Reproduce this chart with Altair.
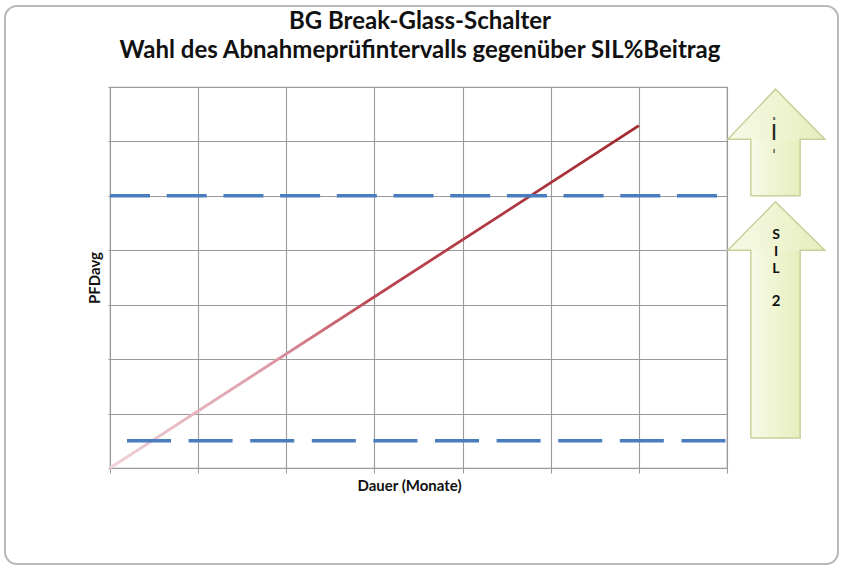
import altair as alt
import pandas as pd

# ---- data ----
months = [0, 6]                 # Dauer (Monate) of the PFDavg line
pfd = [0, 6.29]                 # PFDavg values (relative units)
grid_x = [0, 1, 2, 3, 4, 5, 6, 7]
grid_y = [0, 1, 2, 3, 4, 5, 6, 7]
sil_low = [0.5]                 # lower SIL boundary
sil_high = [5.0]                # upper SIL boundary

# block arrows (x in x-units beyond the axis end, y on the PFDavg scale)
arrow_wing_x = [7.01, 7.55, 8.11]     # head: left wing, tip, right wing
arrow_shaft_x = [7.27, 7.83]          # shaft left / right
lower_arrow = {"bottom": 0.55, "wings": 4.0, "tip": 4.89}
upper_arrow = {"bottom": 5.0, "wings": 6.04, "tip": 6.96}

title_lines = ["BG Break-Glass-Schalter",
               "Wahl des Abnahmeprüfintervalls gegenüber SIL%Beitrag"]

FONT = "Lato"

line_df = pd.DataFrame({"m": months, "p": pfd})

xs = alt.Scale(domain=[0, 7], nice=False, zero=False)
ys = alt.Scale(domain=[0, 7], nice=False, zero=False)

base_x = alt.X("m:Q", scale=xs,
               axis=alt.Axis(values=grid_x, labels=False, domain=False, grid=True,
                             gridColor="#9a9a9a", gridWidth=1.1, ticks=True, tickSize=5,
                             tickColor="#9a9a9a", title="Dauer (Monate)",
                             titleFont=FONT, titleFontSize=15, titleFontWeight="bold",
                             titleColor="#111", titlePadding=5, titleX=299))
base_y = alt.Y("p:Q", scale=ys,
               axis=alt.Axis(values=grid_y, labels=False, domain=False, grid=True,
                             gridColor="#9a9a9a", gridWidth=1.1, ticks=True, tickSize=2,
                             tickColor="#9a9a9a", title="PFDavg",
                             titleFont=FONT, titleFontSize=15, titleFontWeight="bold",
                             titleColor="#111", titlePadding=5))

one = pd.DataFrame({"a": [0]})

# outer rounded frame
frame = alt.Chart(one).mark_rect(
    cornerRadius=12, fill="white", fillOpacity=0, stroke="#b8b8b8", strokeWidth=2
).encode(x=alt.value(-105), x2=alt.value(728), y=alt.value(-81), y2=alt.value(477))

# title as text
title1 = alt.Chart(one).mark_text(
    text=title_lines[0], font=FONT, fontSize=24, fontWeight="bold", color="#111",
    align="center", baseline="alphabetic").encode(x=alt.value(310), y=alt.value(-58))
title2 = alt.Chart(one).mark_text(
    text=title_lines[1], font=FONT, fontSize=24, fontWeight="bold", color="#111",
    align="center", baseline="alphabetic").encode(x=alt.value(310), y=alt.value(-29))

red_grad = alt.LinearGradient(
    gradient="linear", x1=0, y1=1, x2=1, y2=0,
    stops=[alt.GradientStop(offset=0, color="#f0d2d8"),
           alt.GradientStop(offset=0.3, color="#dc9aa6"),
           alt.GradientStop(offset=0.5, color="#bb4652"),
           alt.GradientStop(offset=1, color="#a2292e")])

line = alt.Chart(line_df).mark_line(stroke=red_grad, strokeWidth=2.8).encode(
    x=base_x, y=base_y)

low_df = pd.DataFrame({"m": [0.193], "m2": [7.0], "p": sil_low})
high_df = pd.DataFrame({"m": [0.0], "m2": [7.0], "p": sil_high})
rule_low = alt.Chart(low_df).mark_rule(color="#4a7cc0", strokeWidth=3.5,
                                       strokeDash=[44, 17.6]).encode(
    x=alt.X("m:Q", scale=xs), x2="m2:Q", y=alt.Y("p:Q", scale=ys))
rule_high = alt.Chart(high_df).mark_rule(color="#4a7cc0", strokeWidth=3.5,
                                         strokeDash=[40, 16.7]).encode(
    x=alt.X("m:Q", scale=xs), x2="m2:Q", y=alt.Y("p:Q", scale=ys))

green_grad = alt.LinearGradient(
    gradient="linear", x1=0, y1=0, x2=1, y2=0,
    stops=[alt.GradientStop(offset=0, color="#f8fae8"),
           alt.GradientStop(offset=1, color="#e6eebd")])


def arrow(spec):
    b, w, t = spec["bottom"], spec["wings"], spec["tip"]
    xl, xt, xr = arrow_wing_x
    sl, sr = arrow_shaft_x
    shaft_df = pd.DataFrame({"x": [sl], "x2": [sr], "y": [b], "y2": [w]})
    shaft = alt.Chart(shaft_df).mark_rect(fill=green_grad, strokeWidth=0).encode(
        x=alt.X("x:Q", scale=xs), x2="x2:Q", y=alt.Y("y:Q", scale=ys), y2="y2:Q")
    head_df = pd.DataFrame({"x": [xl, xt, xr], "y": [w, t, w], "y2": [w, w, w]})
    head = alt.Chart(head_df).mark_area(fill=green_grad, strokeWidth=0).encode(
        x=alt.X("x:Q", scale=xs), y=alt.Y("y:Q", scale=ys), y2="y2:Q")
    out_df = pd.DataFrame({
        "i": list(range(8)),
        "x": [sl, sl, xl, xt, xr, sr, sr, sl],
        "y": [b, w, w, t, w, w, b, b]})
    outline = alt.Chart(out_df).mark_line(color="#c8d19a", strokeWidth=1.5).encode(
        x=alt.X("x:Q", scale=xs), y=alt.Y("y:Q", scale=ys), order="i:Q")
    return [shaft, head, outline]


sil2_text = alt.Chart(one).mark_text(
    text=["S", "I", "L"], font=FONT, fontSize=14, fontWeight="bold",
    color="#111", lineHeight=17, baseline="top", align="center"
).encode(x=alt.value(666), y=alt.value(141))
sil2_num = alt.Chart(one).mark_text(
    text="2", font=FONT, fontSize=15, fontWeight="bold",
    color="#111", baseline="middle", align="center"
).encode(x=alt.value(666), y=alt.value(214))

sil3_a = alt.Chart(one).mark_text(text="s", font=FONT, fontSize=6, fontWeight="bold",
                                  color="#222").encode(x=alt.value(664), y=alt.value(31))
sil3_b = alt.Chart(one).mark_text(text="I", font="DejaVu Sans", fontSize=22,
                                  color="#222").encode(x=alt.value(664), y=alt.value(46))
sil3_c = alt.Chart(one).mark_text(text="ı", font=FONT, fontSize=8, fontWeight="bold",
                                  color="#222").encode(x=alt.value(664), y=alt.value(64))

chart = alt.layer(
    frame, line, rule_low, rule_high, *arrow(lower_arrow), *arrow(upper_arrow),
    sil2_text, sil2_num, sil3_a, sil3_b, sil3_c, title1, title2
).properties(
    width=617, height=381,
    padding={"left": 110, "top": 87, "right": 117, "bottom": 101},
    autosize=alt.AutoSizeParams(type="none"),
    background="white"
).configure_view(stroke="#9a9a9a", strokeWidth=1.2)

chart.save("out.html", embed_options={"renderer": "svg", "actions": False})
